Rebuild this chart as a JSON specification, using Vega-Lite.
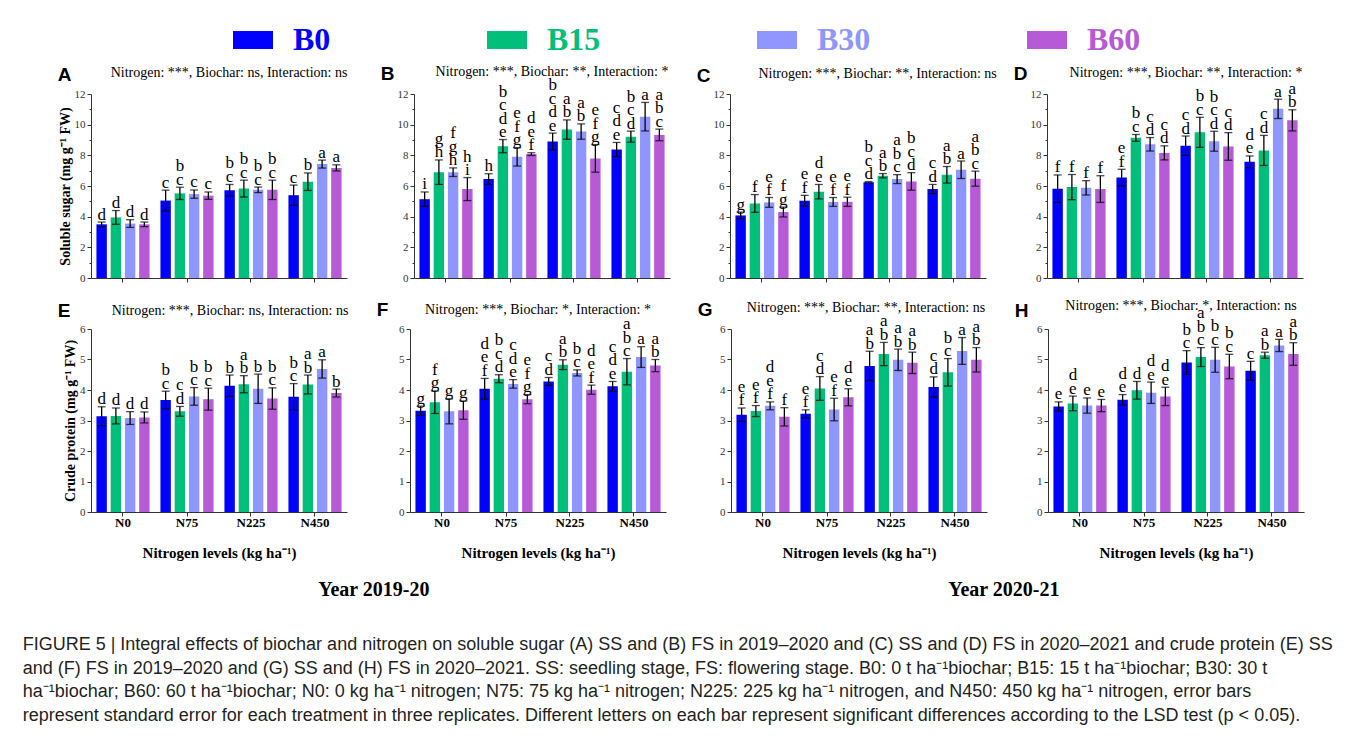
{
"$schema": "https://vega.github.io/schema/vega-lite/v6.json",
"padding": {"left": 22, "top": 20, "right": 5, "bottom": 5},
"background": "white",
"data": {"values": [
{"p":"A","n":"N0","b":"B0","v":3.5,"lo":3.35,"hi":3.65,"l":"d"},
{"p":"A","n":"N0","b":"B15","v":3.95,"lo":3.5,"hi":4.4,"l":"d"},
{"p":"A","n":"N0","b":"B30","v":3.55,"lo":3.3,"hi":3.8,"l":"d"},
{"p":"A","n":"N0","b":"B60","v":3.5,"lo":3.35,"hi":3.65,"l":"d"},
{"p":"A","n":"N75","b":"B0","v":5.05,"lo":4.37,"hi":5.73,"l":"c"},
{"p":"A","n":"N75","b":"B15","v":5.52,"lo":5.12,"hi":5.92,"l":"b\nc"},
{"p":"A","n":"N75","b":"B30","v":5.47,"lo":5.2,"hi":5.74,"l":"c"},
{"p":"A","n":"N75","b":"B60","v":5.37,"lo":5.13,"hi":5.61,"l":"c"},
{"p":"A","n":"N225","b":"B0","v":5.72,"lo":5.34,"hi":6.1,"l":"b\nc"},
{"p":"A","n":"N225","b":"B15","v":5.83,"lo":5.28,"hi":6.38,"l":"b\nc"},
{"p":"A","n":"N225","b":"B30","v":5.75,"lo":5.57,"hi":5.93,"l":"b\nc"},
{"p":"A","n":"N225","b":"B60","v":5.75,"lo":5.12,"hi":6.38,"l":"b\nc"},
{"p":"A","n":"N450","b":"B0","v":5.4,"lo":4.74,"hi":6.06,"l":"c"},
{"p":"A","n":"N450","b":"B15","v":6.28,"lo":5.71,"hi":6.85,"l":"b"},
{"p":"A","n":"N450","b":"B30","v":7.43,"lo":7.17,"hi":7.69,"l":"a"},
{"p":"A","n":"N450","b":"B60","v":7.18,"lo":6.98,"hi":7.38,"l":"a"},
{"p":"B","n":"N0","b":"B0","v":5.14,"lo":4.67,"hi":5.61,"l":"i"},
{"p":"B","n":"N0","b":"B15","v":6.9,"lo":6.1,"hi":7.7,"l":"g\nh"},
{"p":"B","n":"N0","b":"B30","v":6.9,"lo":6.62,"hi":7.18,"l":"f\ng\nh"},
{"p":"B","n":"N0","b":"B60","v":5.8,"lo":5.05,"hi":6.55,"l":"h\ni"},
{"p":"B","n":"N75","b":"B0","v":6.45,"lo":6.1,"hi":6.8,"l":"h"},
{"p":"B","n":"N75","b":"B15","v":8.6,"lo":8.17,"hi":9.03,"l":"b\nc\nd\ne"},
{"p":"B","n":"N75","b":"B30","v":7.9,"lo":7.3,"hi":8.5,"l":"e\nf\ng"},
{"p":"B","n":"N75","b":"B60","v":8.08,"lo":7.99,"hi":8.17,"l":"d\ne\nf"},
{"p":"B","n":"N225","b":"B0","v":8.9,"lo":8.35,"hi":9.45,"l":"b\nc\nd\ne"},
{"p":"B","n":"N225","b":"B15","v":9.68,"lo":9.05,"hi":10.31,"l":"a\nb"},
{"p":"B","n":"N225","b":"B30","v":9.55,"lo":9.05,"hi":10.05,"l":"a\nb"},
{"p":"B","n":"N225","b":"B60","v":7.8,"lo":6.9,"hi":8.7,"l":"e\nf\ng"},
{"p":"B","n":"N450","b":"B0","v":8.38,"lo":7.92,"hi":8.84,"l":"c\nd\ne"},
{"p":"B","n":"N450","b":"B15","v":9.22,"lo":8.86,"hi":9.58,"l":"b\nc\nd"},
{"p":"B","n":"N450","b":"B30","v":10.52,"lo":9.59,"hi":11.45,"l":"a"},
{"p":"B","n":"N450","b":"B60","v":9.33,"lo":8.95,"hi":9.71,"l":"a\nb\nc"},
{"p":"C","n":"N0","b":"B0","v":4.08,"lo":3.86,"hi":4.3,"l":"g"},
{"p":"C","n":"N0","b":"B15","v":4.86,"lo":4.28,"hi":5.44,"l":"f"},
{"p":"C","n":"N0","b":"B30","v":4.93,"lo":4.61,"hi":5.25,"l":"e\nf"},
{"p":"C","n":"N0","b":"B60","v":4.3,"lo":3.98,"hi":4.62,"l":"f\ng"},
{"p":"C","n":"N75","b":"B0","v":5.04,"lo":4.69,"hi":5.39,"l":"e\nf"},
{"p":"C","n":"N75","b":"B15","v":5.63,"lo":5.16,"hi":6.1,"l":"d\ne"},
{"p":"C","n":"N75","b":"B30","v":4.96,"lo":4.67,"hi":5.25,"l":"e\nf"},
{"p":"C","n":"N75","b":"B60","v":4.97,"lo":4.67,"hi":5.27,"l":"e\nf"},
{"p":"C","n":"N225","b":"B0","v":6.24,"lo":6.19,"hi":6.29,"l":"b\nc\nd"},
{"p":"C","n":"N225","b":"B15","v":6.67,"lo":6.53,"hi":6.81,"l":"a\nb"},
{"p":"C","n":"N225","b":"B30","v":6.45,"lo":6.16,"hi":6.74,"l":"a\nb\nc"},
{"p":"C","n":"N225","b":"B60","v":6.3,"lo":5.73,"hi":6.87,"l":"b\nc\nd"},
{"p":"C","n":"N450","b":"B0","v":5.8,"lo":5.5,"hi":6.1,"l":"c\nd"},
{"p":"C","n":"N450","b":"B15","v":6.73,"lo":6.19,"hi":7.27,"l":"a\nb"},
{"p":"C","n":"N450","b":"B30","v":7.06,"lo":6.49,"hi":7.63,"l":"a"},
{"p":"C","n":"N450","b":"B60","v":6.48,"lo":5.99,"hi":6.97,"l":"a\nb\nc"},
{"p":"D","n":"N0","b":"B0","v":5.82,"lo":4.92,"hi":6.72,"l":"f"},
{"p":"D","n":"N0","b":"B15","v":5.93,"lo":5.11,"hi":6.75,"l":"f"},
{"p":"D","n":"N0","b":"B30","v":5.88,"lo":5.41,"hi":6.35,"l":"f"},
{"p":"D","n":"N0","b":"B60","v":5.8,"lo":4.93,"hi":6.67,"l":"f"},
{"p":"D","n":"N75","b":"B0","v":6.55,"lo":6.01,"hi":7.09,"l":"e\nf"},
{"p":"D","n":"N75","b":"B15","v":9.14,"lo":8.92,"hi":9.36,"l":"b\nc"},
{"p":"D","n":"N75","b":"B30","v":8.72,"lo":8.28,"hi":9.16,"l":"c\nd"},
{"p":"D","n":"N75","b":"B60","v":8.16,"lo":7.7,"hi":8.62,"l":"c\nd"},
{"p":"D","n":"N225","b":"B0","v":8.63,"lo":8.0,"hi":9.26,"l":"c\nd"},
{"p":"D","n":"N225","b":"B15","v":9.5,"lo":8.52,"hi":10.48,"l":"b\nc"},
{"p":"D","n":"N225","b":"B30","v":8.92,"lo":8.27,"hi":9.57,"l":"b\nc\nd"},
{"p":"D","n":"N225","b":"B60","v":8.58,"lo":7.68,"hi":9.48,"l":"c\nd"},
{"p":"D","n":"N450","b":"B0","v":7.58,"lo":7.2,"hi":7.96,"l":"d\ne"},
{"p":"D","n":"N450","b":"B15","v":8.32,"lo":7.34,"hi":9.3,"l":"c\nd"},
{"p":"D","n":"N450","b":"B30","v":11.03,"lo":10.4,"hi":11.66,"l":"a"},
{"p":"D","n":"N450","b":"B60","v":10.28,"lo":9.59,"hi":10.97,"l":"a\nb"},
{"p":"E","n":"N0","b":"B0","v":3.14,"lo":2.83,"hi":3.45,"l":"d"},
{"p":"E","n":"N0","b":"B15","v":3.15,"lo":2.89,"hi":3.41,"l":"d"},
{"p":"E","n":"N0","b":"B30","v":3.08,"lo":2.87,"hi":3.29,"l":"d"},
{"p":"E","n":"N0","b":"B60","v":3.1,"lo":2.92,"hi":3.28,"l":"d"},
{"p":"E","n":"N75","b":"B0","v":3.67,"lo":3.38,"hi":3.96,"l":"b\nc"},
{"p":"E","n":"N75","b":"B15","v":3.3,"lo":3.14,"hi":3.46,"l":"c\nd"},
{"p":"E","n":"N75","b":"B30","v":3.79,"lo":3.5,"hi":4.08,"l":"b\nc"},
{"p":"E","n":"N75","b":"B60","v":3.7,"lo":3.34,"hi":4.06,"l":"b\nc"},
{"p":"E","n":"N225","b":"B0","v":4.14,"lo":3.79,"hi":4.49,"l":"b"},
{"p":"E","n":"N225","b":"B15","v":4.19,"lo":3.91,"hi":4.47,"l":"a\nb"},
{"p":"E","n":"N225","b":"B30","v":4.04,"lo":3.56,"hi":4.52,"l":"b"},
{"p":"E","n":"N225","b":"B60","v":3.72,"lo":3.37,"hi":4.07,"l":"b\nc"},
{"p":"E","n":"N450","b":"B0","v":3.78,"lo":3.35,"hi":4.21,"l":"b\nc"},
{"p":"E","n":"N450","b":"B15","v":4.18,"lo":3.87,"hi":4.49,"l":"a\nb"},
{"p":"E","n":"N450","b":"B30","v":4.69,"lo":4.39,"hi":4.99,"l":"a"},
{"p":"E","n":"N450","b":"B60","v":3.9,"lo":3.77,"hi":4.03,"l":"b"},
{"p":"F","n":"N0","b":"B0","v":3.32,"lo":3.17,"hi":3.47,"l":"g"},
{"p":"F","n":"N0","b":"B15","v":3.6,"lo":3.23,"hi":3.97,"l":"f\ng"},
{"p":"F","n":"N0","b":"B30","v":3.3,"lo":2.89,"hi":3.71,"l":"g"},
{"p":"F","n":"N0","b":"B60","v":3.34,"lo":3.04,"hi":3.64,"l":"g"},
{"p":"F","n":"N75","b":"B0","v":4.04,"lo":3.7,"hi":4.38,"l":"d\ne\nf"},
{"p":"F","n":"N75","b":"B15","v":4.37,"lo":4.24,"hi":4.5,"l":"b\nc\nd"},
{"p":"F","n":"N75","b":"B30","v":4.2,"lo":4.06,"hi":4.34,"l":"c\nd\ne"},
{"p":"F","n":"N75","b":"B60","v":3.7,"lo":3.55,"hi":3.85,"l":"e\nf\ng"},
{"p":"F","n":"N225","b":"B0","v":4.28,"lo":4.15,"hi":4.41,"l":"c\nd"},
{"p":"F","n":"N225","b":"B15","v":4.83,"lo":4.67,"hi":4.99,"l":"a\nb"},
{"p":"F","n":"N225","b":"B30","v":4.56,"lo":4.46,"hi":4.66,"l":"b\nc"},
{"p":"F","n":"N225","b":"B60","v":4.01,"lo":3.86,"hi":4.16,"l":"d\ne\nf"},
{"p":"F","n":"N450","b":"B0","v":4.12,"lo":3.96,"hi":4.28,"l":"c\nd\ne"},
{"p":"F","n":"N450","b":"B15","v":4.6,"lo":4.17,"hi":5.03,"l":"a\nb\nc"},
{"p":"F","n":"N450","b":"B30","v":5.08,"lo":4.74,"hi":5.42,"l":"a"},
{"p":"F","n":"N450","b":"B60","v":4.8,"lo":4.6,"hi":5.0,"l":"a\nb"},
{"p":"G","n":"N0","b":"B0","v":3.19,"lo":2.97,"hi":3.41,"l":"e\nf"},
{"p":"G","n":"N0","b":"B15","v":3.31,"lo":3.13,"hi":3.49,"l":"e\nf"},
{"p":"G","n":"N0","b":"B30","v":3.48,"lo":3.35,"hi":3.61,"l":"d\ne\nf"},
{"p":"G","n":"N0","b":"B60","v":3.12,"lo":2.82,"hi":3.42,"l":"f"},
{"p":"G","n":"N75","b":"B0","v":3.22,"lo":3.09,"hi":3.35,"l":"e\nf"},
{"p":"G","n":"N75","b":"B15","v":4.05,"lo":3.66,"hi":4.44,"l":"c\nd"},
{"p":"G","n":"N75","b":"B30","v":3.36,"lo":2.99,"hi":3.73,"l":"e\nf"},
{"p":"G","n":"N75","b":"B60","v":3.76,"lo":3.48,"hi":4.04,"l":"d\ne"},
{"p":"G","n":"N225","b":"B0","v":4.79,"lo":4.31,"hi":5.27,"l":"a\nb"},
{"p":"G","n":"N225","b":"B15","v":5.18,"lo":4.8,"hi":5.56,"l":"a\nb"},
{"p":"G","n":"N225","b":"B30","v":4.99,"lo":4.64,"hi":5.34,"l":"a\nb"},
{"p":"G","n":"N225","b":"B60","v":4.89,"lo":4.54,"hi":5.24,"l":"a\nb"},
{"p":"G","n":"N450","b":"B0","v":4.1,"lo":3.77,"hi":4.43,"l":"c\nd"},
{"p":"G","n":"N450","b":"B15","v":4.58,"lo":4.13,"hi":5.03,"l":"b\nc"},
{"p":"G","n":"N450","b":"B30","v":5.28,"lo":4.84,"hi":5.72,"l":"a"},
{"p":"G","n":"N450","b":"B60","v":4.99,"lo":4.59,"hi":5.39,"l":"a\nb"},
{"p":"H","n":"N0","b":"B0","v":3.46,"lo":3.31,"hi":3.61,"l":"e"},
{"p":"H","n":"N0","b":"B15","v":3.56,"lo":3.32,"hi":3.8,"l":"d\ne"},
{"p":"H","n":"N0","b":"B30","v":3.49,"lo":3.24,"hi":3.74,"l":"e"},
{"p":"H","n":"N0","b":"B60","v":3.49,"lo":3.29,"hi":3.69,"l":"e"},
{"p":"H","n":"N75","b":"B0","v":3.68,"lo":3.51,"hi":3.85,"l":"d\ne"},
{"p":"H","n":"N75","b":"B15","v":3.99,"lo":3.7,"hi":4.28,"l":"d"},
{"p":"H","n":"N75","b":"B30","v":3.91,"lo":3.56,"hi":4.26,"l":"d\ne"},
{"p":"H","n":"N75","b":"B60","v":3.79,"lo":3.49,"hi":4.09,"l":"d\ne"},
{"p":"H","n":"N225","b":"B0","v":4.9,"lo":4.51,"hi":5.29,"l":"b\nc"},
{"p":"H","n":"N225","b":"B15","v":5.08,"lo":4.77,"hi":5.39,"l":"a\nb\nc"},
{"p":"H","n":"N225","b":"B30","v":4.99,"lo":4.58,"hi":5.4,"l":"b\nc"},
{"p":"H","n":"N225","b":"B60","v":4.77,"lo":4.37,"hi":5.17,"l":"b\nc"},
{"p":"H","n":"N450","b":"B0","v":4.63,"lo":4.32,"hi":4.94,"l":"c"},
{"p":"H","n":"N450","b":"B15","v":5.14,"lo":5.04,"hi":5.24,"l":"a\nb"},
{"p":"H","n":"N450","b":"B30","v":5.46,"lo":5.26,"hi":5.66,"l":"a"},
{"p":"H","n":"N450","b":"B60","v":5.18,"lo":4.81,"hi":5.55,"l":"a\nb"}
]},
"title": {"text": [
"FIGURE 5 | Integral effects of biochar and nitrogen on soluble sugar (A) SS and (B) FS in 2019–2020 and (C) SS and (D) FS in 2020–2021 and crude protein (E) SS",
"and (F) FS in 2019–2020 and (G) SS and (H) FS in 2020–2021. SS: seedling stage, FS: flowering stage. B0: 0 t ha⁻¹biochar; B15: 15 t ha⁻¹biochar; B30: 30 t",
"ha⁻¹biochar; B60: 60 t ha⁻¹biochar; N0: 0 kg ha⁻¹ nitrogen; N75: 75 kg ha⁻¹ nitrogen; N225: 225 kg ha⁻¹ nitrogen, and N450: 450 kg ha⁻¹ nitrogen, error bars",
"represent standard error for each treatment in three replicates. Different letters on each bar represent significant differences according to the LSD test (p < 0.05)."
], "orient": "bottom", "anchor": "start", "frame": "bounds", "dx": -35, "offset": 36, "font": "Liberation Sans", "fontSize": 18, "fontWeight": "normal", "lineHeight": 23.5, "color": "#231f20"},
"resolve": {"scale": {"color": "shared"}, "legend": {"color": "shared"}},
"spacing": 15,
"vconcat": [
{"hconcat": [
 {"hconcat": [
  {"width": 256, "height": 184,
   "transform": [{"filter": "datum.p === 'A'"}],
   "encoding": {
    "x": {"field": "n", "type": "nominal", "sort": ["N0","N75","N225","N450"], "scale": {"paddingInner": 0.11, "paddingOuter": 0.055}, "axis": {"labels": false, "title": null, "tickSize": 4}},
    "xOffset": {"field": "b", "type": "nominal", "sort": ["B0","B15","B30","B60"], "scale": {"paddingInner": 0.27, "paddingOuter": 0.135}}
   },
   "layer": [
    {"mark": {"type": "bar"}, "encoding": {
      "y": {"field": "v", "type": "quantitative", "scale": {"domain": [0, 12]}, "axis": {"values": [0,1,2,3,4,5,6,7,8,9,10,11,12], "labelOverlap": false, "labelExpr": "datum.value % 2 === 0 ? datum.label : ''", "tickSize": {"condition": {"test": "datum.value % 2 === 1", "value": 2}, "value": 4}, "labelPadding": 2, "title": "Soluble sugar (mg g⁻¹ FW)", "titleFontSize": 14, "titlePadding": 2}},
      "color": {"field": "b", "type": "nominal", "scale": {"domain": ["B0","B15","B30","B60"], "range": ["#0000ff","#00bf7a","#8f96ff","#b65ad8"]}, "legend": {"orient": "none", "legendX": 142, "legendY": -74, "direction": "horizontal", "title": null, "symbolType": "M-1,-0.45L1,-0.45L1,0.45L-1,0.45Z", "symbolSize": 1600, "symbolStrokeWidth": 0, "symbolOpacity": 1, "labelFont": "Liberation Serif", "labelFontSize": 32, "labelFontWeight": "bold", "labelOffset": 20, "columnPadding": 156, "padding": 0, "labelLimit": 300, "encode": {"labels": {"update": {"fill": {"scale": "color", "field": "value"}}}}}}}},
    {"mark": {"type": "rule", "color": "black", "strokeWidth": 1.3}, "encoding": {"y": {"field": "lo", "type": "quantitative", "axis": {"values": [0,1,2,3,4,5,6,7,8,9,10,11,12], "labelOverlap": false, "labelExpr": "datum.value % 2 === 0 ? datum.label : ''", "tickSize": {"condition": {"test": "datum.value % 2 === 1", "value": 2}, "value": 4}, "labelPadding": 2, "title": "Soluble sugar (mg g⁻¹ FW)", "titleFontSize": 14, "titlePadding": 2}}, "y2": {"field": "hi"}}},
    {"mark": {"type": "tick", "color": "black", "size": 8, "thickness": 1.3}, "encoding": {"y": {"field": "lo", "type": "quantitative", "axis": {"values": [0,1,2,3,4,5,6,7,8,9,10,11,12], "labelOverlap": false, "labelExpr": "datum.value % 2 === 0 ? datum.label : ''", "tickSize": {"condition": {"test": "datum.value % 2 === 1", "value": 2}, "value": 4}, "labelPadding": 2, "title": "Soluble sugar (mg g⁻¹ FW)", "titleFontSize": 14, "titlePadding": 2}}}},
    {"mark": {"type": "tick", "color": "black", "size": 8, "thickness": 1.3}, "encoding": {"y": {"field": "hi", "type": "quantitative", "axis": {"values": [0,1,2,3,4,5,6,7,8,9,10,11,12], "labelOverlap": false, "labelExpr": "datum.value % 2 === 0 ? datum.label : ''", "tickSize": {"condition": {"test": "datum.value % 2 === 1", "value": 2}, "value": 4}, "labelPadding": 2, "title": "Soluble sugar (mg g⁻¹ FW)", "titleFontSize": 14, "titlePadding": 2}}}},
    {"transform": [{"filter": "length(datum.l) === 1"}], "mark": {"type": "text", "font": "Liberation Serif", "fontSize": 17, "baseline": "bottom", "lineBreak": "\n", "lineHeight": 13.5, "dy": 1.5}, "encoding": {"y": {"field": "hi", "type": "quantitative", "axis": {"values": [0,1,2,3,4,5,6,7,8,9,10,11,12], "labelOverlap": false, "labelExpr": "datum.value % 2 === 0 ? datum.label : ''", "tickSize": {"condition": {"test": "datum.value % 2 === 1", "value": 2}, "value": 4}, "labelPadding": 2, "title": "Soluble sugar (mg g⁻¹ FW)", "titleFontSize": 14, "titlePadding": 2}}, "text": {"field": "l"}}},
    {"transform": [{"filter": "length(datum.l) === 3"}], "mark": {"type": "text", "font": "Liberation Serif", "fontSize": 17, "baseline": "bottom", "lineBreak": "\n", "lineHeight": 13.5, "dy": -12}, "encoding": {"y": {"field": "hi", "type": "quantitative", "axis": {"values": [0,1,2,3,4,5,6,7,8,9,10,11,12], "labelOverlap": false, "labelExpr": "datum.value % 2 === 0 ? datum.label : ''", "tickSize": {"condition": {"test": "datum.value % 2 === 1", "value": 2}, "value": 4}, "labelPadding": 2, "title": "Soluble sugar (mg g⁻¹ FW)", "titleFontSize": 14, "titlePadding": 2}}, "text": {"field": "l"}}},
    {"transform": [{"filter": "length(datum.l) === 5"}], "mark": {"type": "text", "font": "Liberation Serif", "fontSize": 17, "baseline": "bottom", "lineBreak": "\n", "lineHeight": 13.5, "dy": -25.5}, "encoding": {"y": {"field": "hi", "type": "quantitative", "axis": {"values": [0,1,2,3,4,5,6,7,8,9,10,11,12], "labelOverlap": false, "labelExpr": "datum.value % 2 === 0 ? datum.label : ''", "tickSize": {"condition": {"test": "datum.value % 2 === 1", "value": 2}, "value": 4}, "labelPadding": 2, "title": "Soluble sugar (mg g⁻¹ FW)", "titleFontSize": 14, "titlePadding": 2}}, "text": {"field": "l"}}},
    {"transform": [{"filter": "length(datum.l) === 7"}], "mark": {"type": "text", "font": "Liberation Serif", "fontSize": 17, "baseline": "bottom", "lineBreak": "\n", "lineHeight": 13.5, "dy": -39}, "encoding": {"y": {"field": "hi", "type": "quantitative", "axis": {"values": [0,1,2,3,4,5,6,7,8,9,10,11,12], "labelOverlap": false, "labelExpr": "datum.value % 2 === 0 ? datum.label : ''", "tickSize": {"condition": {"test": "datum.value % 2 === 1", "value": 2}, "value": 4}, "labelPadding": 2, "title": "Soluble sugar (mg g⁻¹ FW)", "titleFontSize": 14, "titlePadding": 2}}, "text": {"field": "l"}}},
    {"data": {"values": [{"p": "A", "n": "N0", "b": "B0", "t": "A"}]}, "mark": {"type": "text", "font": "Liberation Sans", "fontWeight": "bold", "fontSize": 19, "align": "left", "baseline": "middle", "dx": -44}, "encoding": {"y": {"datum": 13.24, "type": "quantitative", "axis": {"values": [0,1,2,3,4,5,6,7,8,9,10,11,12], "labelOverlap": false, "labelExpr": "datum.value % 2 === 0 ? datum.label : ''", "tickSize": {"condition": {"test": "datum.value % 2 === 1", "value": 2}, "value": 4}, "labelPadding": 2, "title": "Soluble sugar (mg g⁻¹ FW)", "titleFontSize": 14, "titlePadding": 2}}, "text": {"field": "t"}}},
    {"data": {"values": [{"p": "A", "n": "N225", "b": "B0", "t": "Nitrogen: ***, Biochar: ns, Interaction: ns"}]}, "mark": {"type": "text", "font": "Liberation Serif", "fontSize": 14, "align": "center", "baseline": "middle", "dx": -0.6}, "encoding": {"y": {"datum": 13.35, "type": "quantitative", "axis": {"values": [0,1,2,3,4,5,6,7,8,9,10,11,12], "labelOverlap": false, "labelExpr": "datum.value % 2 === 0 ? datum.label : ''", "tickSize": {"condition": {"test": "datum.value % 2 === 1", "value": 2}, "value": 4}, "labelPadding": 2, "title": "Soluble sugar (mg g⁻¹ FW)", "titleFontSize": 14, "titlePadding": 2}}, "text": {"field": "t"}}}
   ]},
  {"width": 256, "height": 184,
   "transform": [{"filter": "datum.p === 'B'"}],
   "encoding": {
    "x": {"field": "n", "type": "nominal", "sort": ["N0","N75","N225","N450"], "scale": {"paddingInner": 0.11, "paddingOuter": 0.055}, "axis": {"labels": false, "title": null, "tickSize": 4}},
    "xOffset": {"field": "b", "type": "nominal", "sort": ["B0","B15","B30","B60"], "scale": {"paddingInner": 0.27, "paddingOuter": 0.135}}
   },
   "layer": [
    {"mark": {"type": "bar"}, "encoding": {
      "y": {"field": "v", "type": "quantitative", "scale": {"domain": [0, 12]}, "axis": {"values": [0,1,2,3,4,5,6,7,8,9,10,11,12], "labelOverlap": false, "labelExpr": "datum.value % 2 === 0 ? datum.label : ''", "tickSize": {"condition": {"test": "datum.value % 2 === 1", "value": 2}, "value": 4}, "labelPadding": 2, "title": null}},
      "color": {"field": "b", "type": "nominal", "scale": {"domain": ["B0","B15","B30","B60"], "range": ["#0000ff","#00bf7a","#8f96ff","#b65ad8"]}, "legend": {"orient": "none", "legendX": 142, "legendY": -74, "direction": "horizontal", "title": null, "symbolType": "M-1,-0.45L1,-0.45L1,0.45L-1,0.45Z", "symbolSize": 1600, "symbolStrokeWidth": 0, "symbolOpacity": 1, "labelFont": "Liberation Serif", "labelFontSize": 32, "labelFontWeight": "bold", "labelOffset": 20, "columnPadding": 156, "padding": 0, "labelLimit": 300, "encode": {"labels": {"update": {"fill": {"scale": "color", "field": "value"}}}}}}}},
    {"mark": {"type": "rule", "color": "black", "strokeWidth": 1.3}, "encoding": {"y": {"field": "lo", "type": "quantitative", "axis": {"values": [0,1,2,3,4,5,6,7,8,9,10,11,12], "labelOverlap": false, "labelExpr": "datum.value % 2 === 0 ? datum.label : ''", "tickSize": {"condition": {"test": "datum.value % 2 === 1", "value": 2}, "value": 4}, "labelPadding": 2, "title": null}}, "y2": {"field": "hi"}}},
    {"mark": {"type": "tick", "color": "black", "size": 8, "thickness": 1.3}, "encoding": {"y": {"field": "lo", "type": "quantitative", "axis": {"values": [0,1,2,3,4,5,6,7,8,9,10,11,12], "labelOverlap": false, "labelExpr": "datum.value % 2 === 0 ? datum.label : ''", "tickSize": {"condition": {"test": "datum.value % 2 === 1", "value": 2}, "value": 4}, "labelPadding": 2, "title": null}}}},
    {"mark": {"type": "tick", "color": "black", "size": 8, "thickness": 1.3}, "encoding": {"y": {"field": "hi", "type": "quantitative", "axis": {"values": [0,1,2,3,4,5,6,7,8,9,10,11,12], "labelOverlap": false, "labelExpr": "datum.value % 2 === 0 ? datum.label : ''", "tickSize": {"condition": {"test": "datum.value % 2 === 1", "value": 2}, "value": 4}, "labelPadding": 2, "title": null}}}},
    {"transform": [{"filter": "length(datum.l) === 1"}], "mark": {"type": "text", "font": "Liberation Serif", "fontSize": 17, "baseline": "bottom", "lineBreak": "\n", "lineHeight": 13.5, "dy": 1.5}, "encoding": {"y": {"field": "hi", "type": "quantitative", "axis": {"values": [0,1,2,3,4,5,6,7,8,9,10,11,12], "labelOverlap": false, "labelExpr": "datum.value % 2 === 0 ? datum.label : ''", "tickSize": {"condition": {"test": "datum.value % 2 === 1", "value": 2}, "value": 4}, "labelPadding": 2, "title": null}}, "text": {"field": "l"}}},
    {"transform": [{"filter": "length(datum.l) === 3"}], "mark": {"type": "text", "font": "Liberation Serif", "fontSize": 17, "baseline": "bottom", "lineBreak": "\n", "lineHeight": 13.5, "dy": -12}, "encoding": {"y": {"field": "hi", "type": "quantitative", "axis": {"values": [0,1,2,3,4,5,6,7,8,9,10,11,12], "labelOverlap": false, "labelExpr": "datum.value % 2 === 0 ? datum.label : ''", "tickSize": {"condition": {"test": "datum.value % 2 === 1", "value": 2}, "value": 4}, "labelPadding": 2, "title": null}}, "text": {"field": "l"}}},
    {"transform": [{"filter": "length(datum.l) === 5"}], "mark": {"type": "text", "font": "Liberation Serif", "fontSize": 17, "baseline": "bottom", "lineBreak": "\n", "lineHeight": 13.5, "dy": -25.5}, "encoding": {"y": {"field": "hi", "type": "quantitative", "axis": {"values": [0,1,2,3,4,5,6,7,8,9,10,11,12], "labelOverlap": false, "labelExpr": "datum.value % 2 === 0 ? datum.label : ''", "tickSize": {"condition": {"test": "datum.value % 2 === 1", "value": 2}, "value": 4}, "labelPadding": 2, "title": null}}, "text": {"field": "l"}}},
    {"transform": [{"filter": "length(datum.l) === 7"}], "mark": {"type": "text", "font": "Liberation Serif", "fontSize": 17, "baseline": "bottom", "lineBreak": "\n", "lineHeight": 13.5, "dy": -39}, "encoding": {"y": {"field": "hi", "type": "quantitative", "axis": {"values": [0,1,2,3,4,5,6,7,8,9,10,11,12], "labelOverlap": false, "labelExpr": "datum.value % 2 === 0 ? datum.label : ''", "tickSize": {"condition": {"test": "datum.value % 2 === 1", "value": 2}, "value": 4}, "labelPadding": 2, "title": null}}, "text": {"field": "l"}}},
    {"data": {"values": [{"p": "B", "n": "N0", "b": "B0", "t": "B"}]}, "mark": {"type": "text", "font": "Liberation Sans", "fontWeight": "bold", "fontSize": 19, "align": "left", "baseline": "middle", "dx": -44}, "encoding": {"y": {"datum": 13.3, "type": "quantitative", "axis": {"values": [0,1,2,3,4,5,6,7,8,9,10,11,12], "labelOverlap": false, "labelExpr": "datum.value % 2 === 0 ? datum.label : ''", "tickSize": {"condition": {"test": "datum.value % 2 === 1", "value": 2}, "value": 4}, "labelPadding": 2, "title": null}}, "text": {"field": "t"}}},
    {"data": {"values": [{"p": "B", "n": "N225", "b": "B0", "t": "Nitrogen: ***, Biochar: **, Interaction: *"}]}, "mark": {"type": "text", "font": "Liberation Serif", "fontSize": 14, "align": "center", "baseline": "middle", "dx": -0.6}, "encoding": {"y": {"datum": 13.45, "type": "quantitative", "axis": {"values": [0,1,2,3,4,5,6,7,8,9,10,11,12], "labelOverlap": false, "labelExpr": "datum.value % 2 === 0 ? datum.label : ''", "tickSize": {"condition": {"test": "datum.value % 2 === 1", "value": 2}, "value": 4}, "labelPadding": 2, "title": null}}, "text": {"field": "t"}}}
   ]}
 ], "spacing": 32},
 {"hconcat": [
  {"width": 256, "height": 184,
   "transform": [{"filter": "datum.p === 'C'"}],
   "encoding": {
    "x": {"field": "n", "type": "nominal", "sort": ["N0","N75","N225","N450"], "scale": {"paddingInner": 0.11, "paddingOuter": 0.055}, "axis": {"labels": false, "title": null, "tickSize": 4}},
    "xOffset": {"field": "b", "type": "nominal", "sort": ["B0","B15","B30","B60"], "scale": {"paddingInner": 0.27, "paddingOuter": 0.135}}
   },
   "layer": [
    {"mark": {"type": "bar"}, "encoding": {
      "y": {"field": "v", "type": "quantitative", "scale": {"domain": [0, 12]}, "axis": {"values": [0,1,2,3,4,5,6,7,8,9,10,11,12], "labelOverlap": false, "labelExpr": "datum.value % 2 === 0 ? datum.label : ''", "tickSize": {"condition": {"test": "datum.value % 2 === 1", "value": 2}, "value": 4}, "labelPadding": 2, "title": null}},
      "color": {"field": "b", "type": "nominal", "scale": {"domain": ["B0","B15","B30","B60"], "range": ["#0000ff","#00bf7a","#8f96ff","#b65ad8"]}, "legend": {"orient": "none", "legendX": 142, "legendY": -74, "direction": "horizontal", "title": null, "symbolType": "M-1,-0.45L1,-0.45L1,0.45L-1,0.45Z", "symbolSize": 1600, "symbolStrokeWidth": 0, "symbolOpacity": 1, "labelFont": "Liberation Serif", "labelFontSize": 32, "labelFontWeight": "bold", "labelOffset": 20, "columnPadding": 156, "padding": 0, "labelLimit": 300, "encode": {"labels": {"update": {"fill": {"scale": "color", "field": "value"}}}}}}}},
    {"mark": {"type": "rule", "color": "black", "strokeWidth": 1.3}, "encoding": {"y": {"field": "lo", "type": "quantitative", "axis": {"values": [0,1,2,3,4,5,6,7,8,9,10,11,12], "labelOverlap": false, "labelExpr": "datum.value % 2 === 0 ? datum.label : ''", "tickSize": {"condition": {"test": "datum.value % 2 === 1", "value": 2}, "value": 4}, "labelPadding": 2, "title": null}}, "y2": {"field": "hi"}}},
    {"mark": {"type": "tick", "color": "black", "size": 8, "thickness": 1.3}, "encoding": {"y": {"field": "lo", "type": "quantitative", "axis": {"values": [0,1,2,3,4,5,6,7,8,9,10,11,12], "labelOverlap": false, "labelExpr": "datum.value % 2 === 0 ? datum.label : ''", "tickSize": {"condition": {"test": "datum.value % 2 === 1", "value": 2}, "value": 4}, "labelPadding": 2, "title": null}}}},
    {"mark": {"type": "tick", "color": "black", "size": 8, "thickness": 1.3}, "encoding": {"y": {"field": "hi", "type": "quantitative", "axis": {"values": [0,1,2,3,4,5,6,7,8,9,10,11,12], "labelOverlap": false, "labelExpr": "datum.value % 2 === 0 ? datum.label : ''", "tickSize": {"condition": {"test": "datum.value % 2 === 1", "value": 2}, "value": 4}, "labelPadding": 2, "title": null}}}},
    {"transform": [{"filter": "length(datum.l) === 1"}], "mark": {"type": "text", "font": "Liberation Serif", "fontSize": 17, "baseline": "bottom", "lineBreak": "\n", "lineHeight": 13.5, "dy": 1.5}, "encoding": {"y": {"field": "hi", "type": "quantitative", "axis": {"values": [0,1,2,3,4,5,6,7,8,9,10,11,12], "labelOverlap": false, "labelExpr": "datum.value % 2 === 0 ? datum.label : ''", "tickSize": {"condition": {"test": "datum.value % 2 === 1", "value": 2}, "value": 4}, "labelPadding": 2, "title": null}}, "text": {"field": "l"}}},
    {"transform": [{"filter": "length(datum.l) === 3"}], "mark": {"type": "text", "font": "Liberation Serif", "fontSize": 17, "baseline": "bottom", "lineBreak": "\n", "lineHeight": 13.5, "dy": -12}, "encoding": {"y": {"field": "hi", "type": "quantitative", "axis": {"values": [0,1,2,3,4,5,6,7,8,9,10,11,12], "labelOverlap": false, "labelExpr": "datum.value % 2 === 0 ? datum.label : ''", "tickSize": {"condition": {"test": "datum.value % 2 === 1", "value": 2}, "value": 4}, "labelPadding": 2, "title": null}}, "text": {"field": "l"}}},
    {"transform": [{"filter": "length(datum.l) === 5"}], "mark": {"type": "text", "font": "Liberation Serif", "fontSize": 17, "baseline": "bottom", "lineBreak": "\n", "lineHeight": 13.5, "dy": -25.5}, "encoding": {"y": {"field": "hi", "type": "quantitative", "axis": {"values": [0,1,2,3,4,5,6,7,8,9,10,11,12], "labelOverlap": false, "labelExpr": "datum.value % 2 === 0 ? datum.label : ''", "tickSize": {"condition": {"test": "datum.value % 2 === 1", "value": 2}, "value": 4}, "labelPadding": 2, "title": null}}, "text": {"field": "l"}}},
    {"transform": [{"filter": "length(datum.l) === 7"}], "mark": {"type": "text", "font": "Liberation Serif", "fontSize": 17, "baseline": "bottom", "lineBreak": "\n", "lineHeight": 13.5, "dy": -39}, "encoding": {"y": {"field": "hi", "type": "quantitative", "axis": {"values": [0,1,2,3,4,5,6,7,8,9,10,11,12], "labelOverlap": false, "labelExpr": "datum.value % 2 === 0 ? datum.label : ''", "tickSize": {"condition": {"test": "datum.value % 2 === 1", "value": 2}, "value": 4}, "labelPadding": 2, "title": null}}, "text": {"field": "l"}}},
    {"data": {"values": [{"p": "C", "n": "N0", "b": "B0", "t": "C"}]}, "mark": {"type": "text", "font": "Liberation Sans", "fontWeight": "bold", "fontSize": 19, "align": "left", "baseline": "middle", "dx": -44}, "encoding": {"y": {"datum": 13.17, "type": "quantitative", "axis": {"values": [0,1,2,3,4,5,6,7,8,9,10,11,12], "labelOverlap": false, "labelExpr": "datum.value % 2 === 0 ? datum.label : ''", "tickSize": {"condition": {"test": "datum.value % 2 === 1", "value": 2}, "value": 4}, "labelPadding": 2, "title": null}}, "text": {"field": "t"}}},
    {"data": {"values": [{"p": "C", "n": "N225", "b": "B0", "t": "Nitrogen: ***, Biochar: **, Interaction: ns"}]}, "mark": {"type": "text", "font": "Liberation Serif", "fontSize": 14, "align": "center", "baseline": "middle", "dx": 9}, "encoding": {"y": {"datum": 13.3, "type": "quantitative", "axis": {"values": [0,1,2,3,4,5,6,7,8,9,10,11,12], "labelOverlap": false, "labelExpr": "datum.value % 2 === 0 ? datum.label : ''", "tickSize": {"condition": {"test": "datum.value % 2 === 1", "value": 2}, "value": 4}, "labelPadding": 2, "title": null}}, "text": {"field": "t"}}}
   ]},
  {"width": 256, "height": 184,
   "transform": [{"filter": "datum.p === 'D'"}],
   "encoding": {
    "x": {"field": "n", "type": "nominal", "sort": ["N0","N75","N225","N450"], "scale": {"paddingInner": 0.11, "paddingOuter": 0.055}, "axis": {"labels": false, "title": null, "tickSize": 4}},
    "xOffset": {"field": "b", "type": "nominal", "sort": ["B0","B15","B30","B60"], "scale": {"paddingInner": 0.27, "paddingOuter": 0.135}}
   },
   "layer": [
    {"mark": {"type": "bar"}, "encoding": {
      "y": {"field": "v", "type": "quantitative", "scale": {"domain": [0, 12]}, "axis": {"values": [0,1,2,3,4,5,6,7,8,9,10,11,12], "labelOverlap": false, "labelExpr": "datum.value % 2 === 0 ? datum.label : ''", "tickSize": {"condition": {"test": "datum.value % 2 === 1", "value": 2}, "value": 4}, "labelPadding": 2, "title": null}},
      "color": {"field": "b", "type": "nominal", "scale": {"domain": ["B0","B15","B30","B60"], "range": ["#0000ff","#00bf7a","#8f96ff","#b65ad8"]}, "legend": {"orient": "none", "legendX": 142, "legendY": -74, "direction": "horizontal", "title": null, "symbolType": "M-1,-0.45L1,-0.45L1,0.45L-1,0.45Z", "symbolSize": 1600, "symbolStrokeWidth": 0, "symbolOpacity": 1, "labelFont": "Liberation Serif", "labelFontSize": 32, "labelFontWeight": "bold", "labelOffset": 20, "columnPadding": 156, "padding": 0, "labelLimit": 300, "encode": {"labels": {"update": {"fill": {"scale": "color", "field": "value"}}}}}}}},
    {"mark": {"type": "rule", "color": "black", "strokeWidth": 1.3}, "encoding": {"y": {"field": "lo", "type": "quantitative", "axis": {"values": [0,1,2,3,4,5,6,7,8,9,10,11,12], "labelOverlap": false, "labelExpr": "datum.value % 2 === 0 ? datum.label : ''", "tickSize": {"condition": {"test": "datum.value % 2 === 1", "value": 2}, "value": 4}, "labelPadding": 2, "title": null}}, "y2": {"field": "hi"}}},
    {"mark": {"type": "tick", "color": "black", "size": 8, "thickness": 1.3}, "encoding": {"y": {"field": "lo", "type": "quantitative", "axis": {"values": [0,1,2,3,4,5,6,7,8,9,10,11,12], "labelOverlap": false, "labelExpr": "datum.value % 2 === 0 ? datum.label : ''", "tickSize": {"condition": {"test": "datum.value % 2 === 1", "value": 2}, "value": 4}, "labelPadding": 2, "title": null}}}},
    {"mark": {"type": "tick", "color": "black", "size": 8, "thickness": 1.3}, "encoding": {"y": {"field": "hi", "type": "quantitative", "axis": {"values": [0,1,2,3,4,5,6,7,8,9,10,11,12], "labelOverlap": false, "labelExpr": "datum.value % 2 === 0 ? datum.label : ''", "tickSize": {"condition": {"test": "datum.value % 2 === 1", "value": 2}, "value": 4}, "labelPadding": 2, "title": null}}}},
    {"transform": [{"filter": "length(datum.l) === 1"}], "mark": {"type": "text", "font": "Liberation Serif", "fontSize": 17, "baseline": "bottom", "lineBreak": "\n", "lineHeight": 13.5, "dy": 1.5}, "encoding": {"y": {"field": "hi", "type": "quantitative", "axis": {"values": [0,1,2,3,4,5,6,7,8,9,10,11,12], "labelOverlap": false, "labelExpr": "datum.value % 2 === 0 ? datum.label : ''", "tickSize": {"condition": {"test": "datum.value % 2 === 1", "value": 2}, "value": 4}, "labelPadding": 2, "title": null}}, "text": {"field": "l"}}},
    {"transform": [{"filter": "length(datum.l) === 3"}], "mark": {"type": "text", "font": "Liberation Serif", "fontSize": 17, "baseline": "bottom", "lineBreak": "\n", "lineHeight": 13.5, "dy": -12}, "encoding": {"y": {"field": "hi", "type": "quantitative", "axis": {"values": [0,1,2,3,4,5,6,7,8,9,10,11,12], "labelOverlap": false, "labelExpr": "datum.value % 2 === 0 ? datum.label : ''", "tickSize": {"condition": {"test": "datum.value % 2 === 1", "value": 2}, "value": 4}, "labelPadding": 2, "title": null}}, "text": {"field": "l"}}},
    {"transform": [{"filter": "length(datum.l) === 5"}], "mark": {"type": "text", "font": "Liberation Serif", "fontSize": 17, "baseline": "bottom", "lineBreak": "\n", "lineHeight": 13.5, "dy": -25.5}, "encoding": {"y": {"field": "hi", "type": "quantitative", "axis": {"values": [0,1,2,3,4,5,6,7,8,9,10,11,12], "labelOverlap": false, "labelExpr": "datum.value % 2 === 0 ? datum.label : ''", "tickSize": {"condition": {"test": "datum.value % 2 === 1", "value": 2}, "value": 4}, "labelPadding": 2, "title": null}}, "text": {"field": "l"}}},
    {"transform": [{"filter": "length(datum.l) === 7"}], "mark": {"type": "text", "font": "Liberation Serif", "fontSize": 17, "baseline": "bottom", "lineBreak": "\n", "lineHeight": 13.5, "dy": -39}, "encoding": {"y": {"field": "hi", "type": "quantitative", "axis": {"values": [0,1,2,3,4,5,6,7,8,9,10,11,12], "labelOverlap": false, "labelExpr": "datum.value % 2 === 0 ? datum.label : ''", "tickSize": {"condition": {"test": "datum.value % 2 === 1", "value": 2}, "value": 4}, "labelPadding": 2, "title": null}}, "text": {"field": "l"}}},
    {"data": {"values": [{"p": "D", "n": "N0", "b": "B0", "t": "D"}]}, "mark": {"type": "text", "font": "Liberation Sans", "fontWeight": "bold", "fontSize": 19, "align": "left", "baseline": "middle", "dx": -44}, "encoding": {"y": {"datum": 13.3, "type": "quantitative", "axis": {"values": [0,1,2,3,4,5,6,7,8,9,10,11,12], "labelOverlap": false, "labelExpr": "datum.value % 2 === 0 ? datum.label : ''", "tickSize": {"condition": {"test": "datum.value % 2 === 1", "value": 2}, "value": 4}, "labelPadding": 2, "title": null}}, "text": {"field": "t"}}},
    {"data": {"values": [{"p": "D", "n": "N225", "b": "B0", "t": "Nitrogen: ***, Biochar: **, Interaction: *"}]}, "mark": {"type": "text", "font": "Liberation Serif", "fontSize": 14, "align": "center", "baseline": "middle", "dx": 0.4}, "encoding": {"y": {"datum": 13.35, "type": "quantitative", "axis": {"values": [0,1,2,3,4,5,6,7,8,9,10,11,12], "labelOverlap": false, "labelExpr": "datum.value % 2 === 0 ? datum.label : ''", "tickSize": {"condition": {"test": "datum.value % 2 === 1", "value": 2}, "value": 4}, "labelPadding": 2, "title": null}}, "text": {"field": "t"}}}
   ]}
 ], "spacing": 16}
], "spacing": 26},
{"hconcat": [
 {"hconcat": [
  {"width": 256, "height": 183,
   "transform": [{"filter": "datum.p === 'E'"}],
   "encoding": {
    "x": {"field": "n", "type": "nominal", "sort": ["N0","N75","N225","N450"], "scale": {"paddingInner": 0.11, "paddingOuter": 0.055}, "axis": {"labelAngle": 0, "labelFont": "Liberation Serif", "labelFontWeight": "bold", "labelFontSize": 13, "labelColor": "black", "labelPadding": 0, "tickSize": 4, "title": "Nitrogen levels (kg ha⁻¹)", "titleFontSize": 15, "titlePadding": 16}},
    "xOffset": {"field": "b", "type": "nominal", "sort": ["B0","B15","B30","B60"], "scale": {"paddingInner": 0.27, "paddingOuter": 0.135}}
   },
   "layer": [
    {"mark": {"type": "bar"}, "encoding": {
      "y": {"field": "v", "type": "quantitative", "scale": {"domain": [0, 6]}, "axis": {"values": [0,1,2,3,4,5,6], "labelOverlap": false, "tickSize": 4, "labelPadding": 2, "title": "Crude protein (mg g⁻¹ FW)", "titleFontSize": 14, "titlePadding": 2}},
      "color": {"field": "b", "type": "nominal", "scale": {"domain": ["B0","B15","B30","B60"], "range": ["#0000ff","#00bf7a","#8f96ff","#b65ad8"]}, "legend": {"orient": "none", "legendX": 142, "legendY": -74, "direction": "horizontal", "title": null, "symbolType": "M-1,-0.45L1,-0.45L1,0.45L-1,0.45Z", "symbolSize": 1600, "symbolStrokeWidth": 0, "symbolOpacity": 1, "labelFont": "Liberation Serif", "labelFontSize": 32, "labelFontWeight": "bold", "labelOffset": 20, "columnPadding": 156, "padding": 0, "labelLimit": 300, "encode": {"labels": {"update": {"fill": {"scale": "color", "field": "value"}}}}}}}},
    {"mark": {"type": "rule", "color": "black", "strokeWidth": 1.3}, "encoding": {"y": {"field": "lo", "type": "quantitative", "axis": {"values": [0,1,2,3,4,5,6], "labelOverlap": false, "tickSize": 4, "labelPadding": 2, "title": "Crude protein (mg g⁻¹ FW)", "titleFontSize": 14, "titlePadding": 2}}, "y2": {"field": "hi"}}},
    {"mark": {"type": "tick", "color": "black", "size": 8, "thickness": 1.3}, "encoding": {"y": {"field": "lo", "type": "quantitative", "axis": {"values": [0,1,2,3,4,5,6], "labelOverlap": false, "tickSize": 4, "labelPadding": 2, "title": "Crude protein (mg g⁻¹ FW)", "titleFontSize": 14, "titlePadding": 2}}}},
    {"mark": {"type": "tick", "color": "black", "size": 8, "thickness": 1.3}, "encoding": {"y": {"field": "hi", "type": "quantitative", "axis": {"values": [0,1,2,3,4,5,6], "labelOverlap": false, "tickSize": 4, "labelPadding": 2, "title": "Crude protein (mg g⁻¹ FW)", "titleFontSize": 14, "titlePadding": 2}}}},
    {"transform": [{"filter": "length(datum.l) === 1"}], "mark": {"type": "text", "font": "Liberation Serif", "fontSize": 17, "baseline": "bottom", "lineBreak": "\n", "lineHeight": 13.5, "dy": 1.5}, "encoding": {"y": {"field": "hi", "type": "quantitative", "axis": {"values": [0,1,2,3,4,5,6], "labelOverlap": false, "tickSize": 4, "labelPadding": 2, "title": "Crude protein (mg g⁻¹ FW)", "titleFontSize": 14, "titlePadding": 2}}, "text": {"field": "l"}}},
    {"transform": [{"filter": "length(datum.l) === 3"}], "mark": {"type": "text", "font": "Liberation Serif", "fontSize": 17, "baseline": "bottom", "lineBreak": "\n", "lineHeight": 13.5, "dy": -12}, "encoding": {"y": {"field": "hi", "type": "quantitative", "axis": {"values": [0,1,2,3,4,5,6], "labelOverlap": false, "tickSize": 4, "labelPadding": 2, "title": "Crude protein (mg g⁻¹ FW)", "titleFontSize": 14, "titlePadding": 2}}, "text": {"field": "l"}}},
    {"transform": [{"filter": "length(datum.l) === 5"}], "mark": {"type": "text", "font": "Liberation Serif", "fontSize": 17, "baseline": "bottom", "lineBreak": "\n", "lineHeight": 13.5, "dy": -25.5}, "encoding": {"y": {"field": "hi", "type": "quantitative", "axis": {"values": [0,1,2,3,4,5,6], "labelOverlap": false, "tickSize": 4, "labelPadding": 2, "title": "Crude protein (mg g⁻¹ FW)", "titleFontSize": 14, "titlePadding": 2}}, "text": {"field": "l"}}},
    {"transform": [{"filter": "length(datum.l) === 7"}], "mark": {"type": "text", "font": "Liberation Serif", "fontSize": 17, "baseline": "bottom", "lineBreak": "\n", "lineHeight": 13.5, "dy": -39}, "encoding": {"y": {"field": "hi", "type": "quantitative", "axis": {"values": [0,1,2,3,4,5,6], "labelOverlap": false, "tickSize": 4, "labelPadding": 2, "title": "Crude protein (mg g⁻¹ FW)", "titleFontSize": 14, "titlePadding": 2}}, "text": {"field": "l"}}},
    {"data": {"values": [{"p": "E", "n": "N0", "b": "B0", "t": "E"}]}, "mark": {"type": "text", "font": "Liberation Sans", "fontWeight": "bold", "fontSize": 19, "align": "left", "baseline": "middle", "dx": -44}, "encoding": {"y": {"datum": 6.59, "type": "quantitative", "axis": {"values": [0,1,2,3,4,5,6], "labelOverlap": false, "tickSize": 4, "labelPadding": 2, "title": "Crude protein (mg g⁻¹ FW)", "titleFontSize": 14, "titlePadding": 2}}, "text": {"field": "t"}}},
    {"data": {"values": [{"p": "E", "n": "N225", "b": "B0", "t": "Nitrogen: ***, Biochar: ns, Interaction: ns"}]}, "mark": {"type": "text", "font": "Liberation Serif", "fontSize": 14, "align": "center", "baseline": "middle", "dx": 0.4}, "encoding": {"y": {"datum": 6.59, "type": "quantitative", "axis": {"values": [0,1,2,3,4,5,6], "labelOverlap": false, "tickSize": 4, "labelPadding": 2, "title": "Crude protein (mg g⁻¹ FW)", "titleFontSize": 14, "titlePadding": 2}}, "text": {"field": "t"}}}
   ]},
  {"width": 256, "height": 183,
   "transform": [{"filter": "datum.p === 'F'"}],
   "encoding": {
    "x": {"field": "n", "type": "nominal", "sort": ["N0","N75","N225","N450"], "scale": {"paddingInner": 0.11, "paddingOuter": 0.055}, "axis": {"labelAngle": 0, "labelFont": "Liberation Serif", "labelFontWeight": "bold", "labelFontSize": 13, "labelColor": "black", "labelPadding": 0, "tickSize": 4, "title": "Nitrogen levels (kg ha⁻¹)", "titleFontSize": 15, "titlePadding": 16}},
    "xOffset": {"field": "b", "type": "nominal", "sort": ["B0","B15","B30","B60"], "scale": {"paddingInner": 0.27, "paddingOuter": 0.135}}
   },
   "layer": [
    {"mark": {"type": "bar"}, "encoding": {
      "y": {"field": "v", "type": "quantitative", "scale": {"domain": [0, 6]}, "axis": {"values": [0,1,2,3,4,5,6], "labelOverlap": false, "tickSize": 4, "labelPadding": 2, "title": null}},
      "color": {"field": "b", "type": "nominal", "scale": {"domain": ["B0","B15","B30","B60"], "range": ["#0000ff","#00bf7a","#8f96ff","#b65ad8"]}, "legend": {"orient": "none", "legendX": 142, "legendY": -74, "direction": "horizontal", "title": null, "symbolType": "M-1,-0.45L1,-0.45L1,0.45L-1,0.45Z", "symbolSize": 1600, "symbolStrokeWidth": 0, "symbolOpacity": 1, "labelFont": "Liberation Serif", "labelFontSize": 32, "labelFontWeight": "bold", "labelOffset": 20, "columnPadding": 156, "padding": 0, "labelLimit": 300, "encode": {"labels": {"update": {"fill": {"scale": "color", "field": "value"}}}}}}}},
    {"mark": {"type": "rule", "color": "black", "strokeWidth": 1.3}, "encoding": {"y": {"field": "lo", "type": "quantitative", "axis": {"values": [0,1,2,3,4,5,6], "labelOverlap": false, "tickSize": 4, "labelPadding": 2, "title": null}}, "y2": {"field": "hi"}}},
    {"mark": {"type": "tick", "color": "black", "size": 8, "thickness": 1.3}, "encoding": {"y": {"field": "lo", "type": "quantitative", "axis": {"values": [0,1,2,3,4,5,6], "labelOverlap": false, "tickSize": 4, "labelPadding": 2, "title": null}}}},
    {"mark": {"type": "tick", "color": "black", "size": 8, "thickness": 1.3}, "encoding": {"y": {"field": "hi", "type": "quantitative", "axis": {"values": [0,1,2,3,4,5,6], "labelOverlap": false, "tickSize": 4, "labelPadding": 2, "title": null}}}},
    {"transform": [{"filter": "length(datum.l) === 1"}], "mark": {"type": "text", "font": "Liberation Serif", "fontSize": 17, "baseline": "bottom", "lineBreak": "\n", "lineHeight": 13.5, "dy": 1.5}, "encoding": {"y": {"field": "hi", "type": "quantitative", "axis": {"values": [0,1,2,3,4,5,6], "labelOverlap": false, "tickSize": 4, "labelPadding": 2, "title": null}}, "text": {"field": "l"}}},
    {"transform": [{"filter": "length(datum.l) === 3"}], "mark": {"type": "text", "font": "Liberation Serif", "fontSize": 17, "baseline": "bottom", "lineBreak": "\n", "lineHeight": 13.5, "dy": -12}, "encoding": {"y": {"field": "hi", "type": "quantitative", "axis": {"values": [0,1,2,3,4,5,6], "labelOverlap": false, "tickSize": 4, "labelPadding": 2, "title": null}}, "text": {"field": "l"}}},
    {"transform": [{"filter": "length(datum.l) === 5"}], "mark": {"type": "text", "font": "Liberation Serif", "fontSize": 17, "baseline": "bottom", "lineBreak": "\n", "lineHeight": 13.5, "dy": -25.5}, "encoding": {"y": {"field": "hi", "type": "quantitative", "axis": {"values": [0,1,2,3,4,5,6], "labelOverlap": false, "tickSize": 4, "labelPadding": 2, "title": null}}, "text": {"field": "l"}}},
    {"transform": [{"filter": "length(datum.l) === 7"}], "mark": {"type": "text", "font": "Liberation Serif", "fontSize": 17, "baseline": "bottom", "lineBreak": "\n", "lineHeight": 13.5, "dy": -39}, "encoding": {"y": {"field": "hi", "type": "quantitative", "axis": {"values": [0,1,2,3,4,5,6], "labelOverlap": false, "tickSize": 4, "labelPadding": 2, "title": null}}, "text": {"field": "l"}}},
    {"data": {"values": [{"p": "F", "n": "N0", "b": "B0", "t": "F"}]}, "mark": {"type": "text", "font": "Liberation Sans", "fontWeight": "bold", "fontSize": 19, "align": "left", "baseline": "middle", "dx": -44}, "encoding": {"y": {"datum": 6.62, "type": "quantitative", "axis": {"values": [0,1,2,3,4,5,6], "labelOverlap": false, "tickSize": 4, "labelPadding": 2, "title": null}}, "text": {"field": "t"}}},
    {"data": {"values": [{"p": "F", "n": "N225", "b": "B0", "t": "Nitrogen: ***, Biochar: *, Interaction: *"}]}, "mark": {"type": "text", "font": "Liberation Serif", "fontSize": 14, "align": "center", "baseline": "middle", "dx": -10.6}, "encoding": {"y": {"datum": 6.62, "type": "quantitative", "axis": {"values": [0,1,2,3,4,5,6], "labelOverlap": false, "tickSize": 4, "labelPadding": 2, "title": null}}, "text": {"field": "t"}}}
   ]}
 ], "spacing": 27, "title": {"text": "Year 2019-20", "orient": "bottom", "anchor": "middle", "font": "Liberation Serif", "fontSize": 20, "fontWeight": "bold", "color": "black", "offset": 20, "dx": 12}},
 {"hconcat": [
  {"width": 256, "height": 183,
   "transform": [{"filter": "datum.p === 'G'"}],
   "encoding": {
    "x": {"field": "n", "type": "nominal", "sort": ["N0","N75","N225","N450"], "scale": {"paddingInner": 0.11, "paddingOuter": 0.055}, "axis": {"labelAngle": 0, "labelFont": "Liberation Serif", "labelFontWeight": "bold", "labelFontSize": 13, "labelColor": "black", "labelPadding": 0, "tickSize": 4, "title": "Nitrogen levels (kg ha⁻¹)", "titleFontSize": 15, "titlePadding": 16}},
    "xOffset": {"field": "b", "type": "nominal", "sort": ["B0","B15","B30","B60"], "scale": {"paddingInner": 0.27, "paddingOuter": 0.135}}
   },
   "layer": [
    {"mark": {"type": "bar"}, "encoding": {
      "y": {"field": "v", "type": "quantitative", "scale": {"domain": [0, 6]}, "axis": {"values": [0,1,2,3,4,5,6], "labelOverlap": false, "tickSize": 4, "labelPadding": 2, "title": null}},
      "color": {"field": "b", "type": "nominal", "scale": {"domain": ["B0","B15","B30","B60"], "range": ["#0000ff","#00bf7a","#8f96ff","#b65ad8"]}, "legend": {"orient": "none", "legendX": 142, "legendY": -74, "direction": "horizontal", "title": null, "symbolType": "M-1,-0.45L1,-0.45L1,0.45L-1,0.45Z", "symbolSize": 1600, "symbolStrokeWidth": 0, "symbolOpacity": 1, "labelFont": "Liberation Serif", "labelFontSize": 32, "labelFontWeight": "bold", "labelOffset": 20, "columnPadding": 156, "padding": 0, "labelLimit": 300, "encode": {"labels": {"update": {"fill": {"scale": "color", "field": "value"}}}}}}}},
    {"mark": {"type": "rule", "color": "black", "strokeWidth": 1.3}, "encoding": {"y": {"field": "lo", "type": "quantitative", "axis": {"values": [0,1,2,3,4,5,6], "labelOverlap": false, "tickSize": 4, "labelPadding": 2, "title": null}}, "y2": {"field": "hi"}}},
    {"mark": {"type": "tick", "color": "black", "size": 8, "thickness": 1.3}, "encoding": {"y": {"field": "lo", "type": "quantitative", "axis": {"values": [0,1,2,3,4,5,6], "labelOverlap": false, "tickSize": 4, "labelPadding": 2, "title": null}}}},
    {"mark": {"type": "tick", "color": "black", "size": 8, "thickness": 1.3}, "encoding": {"y": {"field": "hi", "type": "quantitative", "axis": {"values": [0,1,2,3,4,5,6], "labelOverlap": false, "tickSize": 4, "labelPadding": 2, "title": null}}}},
    {"transform": [{"filter": "length(datum.l) === 1"}], "mark": {"type": "text", "font": "Liberation Serif", "fontSize": 17, "baseline": "bottom", "lineBreak": "\n", "lineHeight": 13.5, "dy": 1.5}, "encoding": {"y": {"field": "hi", "type": "quantitative", "axis": {"values": [0,1,2,3,4,5,6], "labelOverlap": false, "tickSize": 4, "labelPadding": 2, "title": null}}, "text": {"field": "l"}}},
    {"transform": [{"filter": "length(datum.l) === 3"}], "mark": {"type": "text", "font": "Liberation Serif", "fontSize": 17, "baseline": "bottom", "lineBreak": "\n", "lineHeight": 13.5, "dy": -12}, "encoding": {"y": {"field": "hi", "type": "quantitative", "axis": {"values": [0,1,2,3,4,5,6], "labelOverlap": false, "tickSize": 4, "labelPadding": 2, "title": null}}, "text": {"field": "l"}}},
    {"transform": [{"filter": "length(datum.l) === 5"}], "mark": {"type": "text", "font": "Liberation Serif", "fontSize": 17, "baseline": "bottom", "lineBreak": "\n", "lineHeight": 13.5, "dy": -25.5}, "encoding": {"y": {"field": "hi", "type": "quantitative", "axis": {"values": [0,1,2,3,4,5,6], "labelOverlap": false, "tickSize": 4, "labelPadding": 2, "title": null}}, "text": {"field": "l"}}},
    {"transform": [{"filter": "length(datum.l) === 7"}], "mark": {"type": "text", "font": "Liberation Serif", "fontSize": 17, "baseline": "bottom", "lineBreak": "\n", "lineHeight": 13.5, "dy": -39}, "encoding": {"y": {"field": "hi", "type": "quantitative", "axis": {"values": [0,1,2,3,4,5,6], "labelOverlap": false, "tickSize": 4, "labelPadding": 2, "title": null}}, "text": {"field": "l"}}},
    {"data": {"values": [{"p": "G", "n": "N0", "b": "B0", "t": "G"}]}, "mark": {"type": "text", "font": "Liberation Sans", "fontWeight": "bold", "fontSize": 19, "align": "left", "baseline": "middle", "dx": -44}, "encoding": {"y": {"datum": 6.62, "type": "quantitative", "axis": {"values": [0,1,2,3,4,5,6], "labelOverlap": false, "tickSize": 4, "labelPadding": 2, "title": null}}, "text": {"field": "t"}}},
    {"data": {"values": [{"p": "G", "n": "N225", "b": "B0", "t": "Nitrogen: ***, Biochar: **, Interaction: ns"}]}, "mark": {"type": "text", "font": "Liberation Serif", "fontSize": 14, "align": "center", "baseline": "middle", "dx": -3.6}, "encoding": {"y": {"datum": 6.7, "type": "quantitative", "axis": {"values": [0,1,2,3,4,5,6], "labelOverlap": false, "tickSize": 4, "labelPadding": 2, "title": null}}, "text": {"field": "t"}}}
   ]},
  {"width": 256, "height": 183,
   "transform": [{"filter": "datum.p === 'H'"}],
   "encoding": {
    "x": {"field": "n", "type": "nominal", "sort": ["N0","N75","N225","N450"], "scale": {"paddingInner": 0.11, "paddingOuter": 0.055}, "axis": {"labelAngle": 0, "labelFont": "Liberation Serif", "labelFontWeight": "bold", "labelFontSize": 13, "labelColor": "black", "labelPadding": 0, "tickSize": 4, "title": "Nitrogen levels (kg ha⁻¹)", "titleFontSize": 15, "titlePadding": 16}},
    "xOffset": {"field": "b", "type": "nominal", "sort": ["B0","B15","B30","B60"], "scale": {"paddingInner": 0.27, "paddingOuter": 0.135}}
   },
   "layer": [
    {"mark": {"type": "bar"}, "encoding": {
      "y": {"field": "v", "type": "quantitative", "scale": {"domain": [0, 6]}, "axis": {"values": [0,1,2,3,4,5,6], "labelOverlap": false, "tickSize": 4, "labelPadding": 2, "title": null}},
      "color": {"field": "b", "type": "nominal", "scale": {"domain": ["B0","B15","B30","B60"], "range": ["#0000ff","#00bf7a","#8f96ff","#b65ad8"]}, "legend": {"orient": "none", "legendX": 142, "legendY": -74, "direction": "horizontal", "title": null, "symbolType": "M-1,-0.45L1,-0.45L1,0.45L-1,0.45Z", "symbolSize": 1600, "symbolStrokeWidth": 0, "symbolOpacity": 1, "labelFont": "Liberation Serif", "labelFontSize": 32, "labelFontWeight": "bold", "labelOffset": 20, "columnPadding": 156, "padding": 0, "labelLimit": 300, "encode": {"labels": {"update": {"fill": {"scale": "color", "field": "value"}}}}}}}},
    {"mark": {"type": "rule", "color": "black", "strokeWidth": 1.3}, "encoding": {"y": {"field": "lo", "type": "quantitative", "axis": {"values": [0,1,2,3,4,5,6], "labelOverlap": false, "tickSize": 4, "labelPadding": 2, "title": null}}, "y2": {"field": "hi"}}},
    {"mark": {"type": "tick", "color": "black", "size": 8, "thickness": 1.3}, "encoding": {"y": {"field": "lo", "type": "quantitative", "axis": {"values": [0,1,2,3,4,5,6], "labelOverlap": false, "tickSize": 4, "labelPadding": 2, "title": null}}}},
    {"mark": {"type": "tick", "color": "black", "size": 8, "thickness": 1.3}, "encoding": {"y": {"field": "hi", "type": "quantitative", "axis": {"values": [0,1,2,3,4,5,6], "labelOverlap": false, "tickSize": 4, "labelPadding": 2, "title": null}}}},
    {"transform": [{"filter": "length(datum.l) === 1"}], "mark": {"type": "text", "font": "Liberation Serif", "fontSize": 17, "baseline": "bottom", "lineBreak": "\n", "lineHeight": 13.5, "dy": 1.5}, "encoding": {"y": {"field": "hi", "type": "quantitative", "axis": {"values": [0,1,2,3,4,5,6], "labelOverlap": false, "tickSize": 4, "labelPadding": 2, "title": null}}, "text": {"field": "l"}}},
    {"transform": [{"filter": "length(datum.l) === 3"}], "mark": {"type": "text", "font": "Liberation Serif", "fontSize": 17, "baseline": "bottom", "lineBreak": "\n", "lineHeight": 13.5, "dy": -12}, "encoding": {"y": {"field": "hi", "type": "quantitative", "axis": {"values": [0,1,2,3,4,5,6], "labelOverlap": false, "tickSize": 4, "labelPadding": 2, "title": null}}, "text": {"field": "l"}}},
    {"transform": [{"filter": "length(datum.l) === 5"}], "mark": {"type": "text", "font": "Liberation Serif", "fontSize": 17, "baseline": "bottom", "lineBreak": "\n", "lineHeight": 13.5, "dy": -25.5}, "encoding": {"y": {"field": "hi", "type": "quantitative", "axis": {"values": [0,1,2,3,4,5,6], "labelOverlap": false, "tickSize": 4, "labelPadding": 2, "title": null}}, "text": {"field": "l"}}},
    {"transform": [{"filter": "length(datum.l) === 7"}], "mark": {"type": "text", "font": "Liberation Serif", "fontSize": 17, "baseline": "bottom", "lineBreak": "\n", "lineHeight": 13.5, "dy": -39}, "encoding": {"y": {"field": "hi", "type": "quantitative", "axis": {"values": [0,1,2,3,4,5,6], "labelOverlap": false, "tickSize": 4, "labelPadding": 2, "title": null}}, "text": {"field": "l"}}},
    {"data": {"values": [{"p": "H", "n": "N0", "b": "B0", "t": "H"}]}, "mark": {"type": "text", "font": "Liberation Sans", "fontWeight": "bold", "fontSize": 19, "align": "left", "baseline": "middle", "dx": -44}, "encoding": {"y": {"datum": 6.59, "type": "quantitative", "axis": {"values": [0,1,2,3,4,5,6], "labelOverlap": false, "tickSize": 4, "labelPadding": 2, "title": null}}, "text": {"field": "t"}}},
    {"data": {"values": [{"p": "H", "n": "N225", "b": "B0", "t": "Nitrogen: ***, Biochar: *, Interaction: ns"}]}, "mark": {"type": "text", "font": "Liberation Serif", "fontSize": 14, "align": "center", "baseline": "middle", "dx": -5.6}, "encoding": {"y": {"datum": 6.77, "type": "quantitative", "axis": {"values": [0,1,2,3,4,5,6], "labelOverlap": false, "tickSize": 4, "labelPadding": 2, "title": null}}, "text": {"field": "t"}}}
   ]}
 ], "spacing": 27, "title": {"text": "Year 2020-21", "orient": "bottom", "anchor": "middle", "font": "Liberation Serif", "fontSize": 20, "fontWeight": "bold", "color": "black", "offset": 20, "dx": 3}}
], "spacing": 31}
],
"config": {
 "view": {"stroke": null},
 "axis": {"domainColor": "#333333", "tickColor": "#333333", "labelFont": "Liberation Serif", "labelFontSize": 11, "labelColor": "#333333", "titleFont": "Liberation Serif", "titleFontWeight": "bold", "titleColor": "black", "grid": false}
}
}
